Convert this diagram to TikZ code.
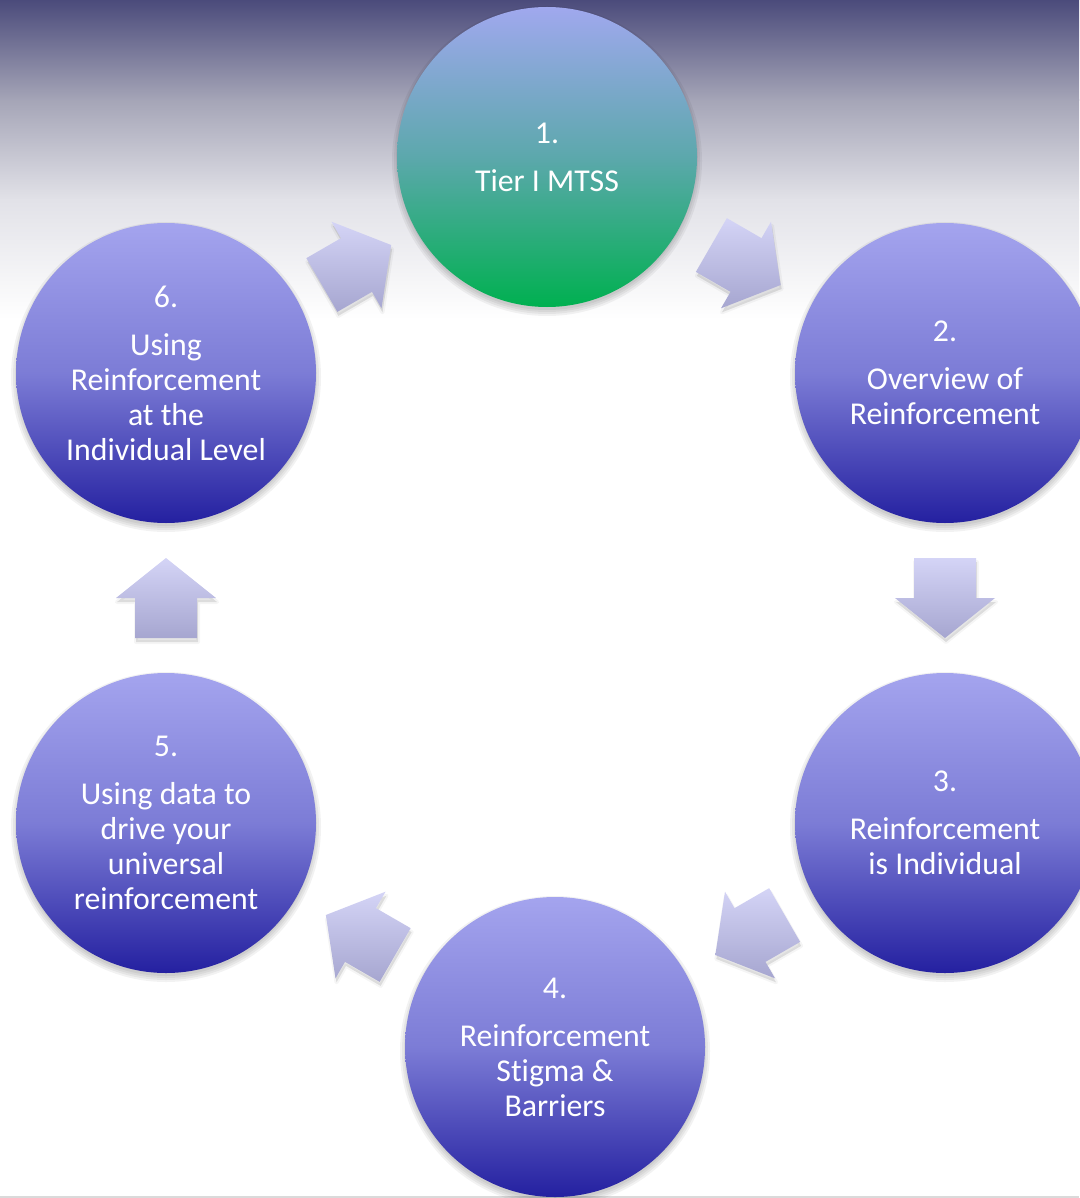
\documentclass[tikz,border=0pt]{standalone}
\usepackage{fontspec}
\setmainfont{Carlito}[Ligatures=NoCommon]
\usetikzlibrary{calc}

\definecolor{bgtop}{RGB}{75,75,123}
\definecolor{bgmid}{RGB}{165,165,183}
\definecolor{bglow}{RGB}{226,226,232}
\definecolor{rulegray}{RGB}{218,218,218}
\definecolor{discTop}{RGB}{164,164,238}
\definecolor{discMid}{RGB}{124,124,214}
\definecolor{discBot}{RGB}{36,32,160}
\definecolor{greenTop}{RGB}{160,168,238}
\definecolor{greenMid}{RGB}{92,168,172}
\definecolor{greenBot}{RGB}{0,176,80}
\definecolor{arrowTop}{RGB}{212,212,246}
\definecolor{arrowBot}{RGB}{166,166,208}

\tikzset{
  disc/.style={circle, minimum size=300pt, inner sep=0pt, shade,
    top color=discTop, bottom color=discBot, middle color=discMid},
  greendisc/.style={circle, minimum size=300pt, inner sep=0pt, shade,
    top color=greenTop, bottom color=greenBot, middle color=greenMid},
  lbl/.style={text=white, align=center, inner sep=0pt,
    font=\fontsize{31.8}{35}\selectfont},
  arrowfill/.style={shade, top color=arrowTop, bottom color=arrowBot},
  arrowshadow/.style={fill=black, fill opacity=0.10, draw=black,
    draw opacity=0.04, line width=4pt, line join=round},
}

% block arrow: #1 centre, #2 direction angle, #3 offset, #4 path style
\newcommand\arrowshape[4]{%
  \path[#4]
    ([shift={(#1)},shift={(#3)},rotate=#2]-40,31)
 -- ([shift={(#1)},shift={(#3)},rotate=#2]0,31)
 -- ([shift={(#1)},shift={(#3)},rotate=#2]0,50)
 -- ([shift={(#1)},shift={(#3)},rotate=#2]40,0)
 -- ([shift={(#1)},shift={(#3)},rotate=#2]0,-50)
 -- ([shift={(#1)},shift={(#3)},rotate=#2]0,-31)
 -- ([shift={(#1)},shift={(#3)},rotate=#2]-40,-31)
 -- cycle;}

\begin{document}
\begin{tikzpicture}[x=1pt,y=-1pt]
\useasboundingbox (0,0) rectangle (1079,1198);

% background: dark band at the top fading into white
\fill[white] (0,0) rectangle (1079,1198);
\shade[top color=bgtop, bottom color=bgmid] (0,0) rectangle (1079,100.5);
\shade[top color=bgmid, bottom color=bglow] (0,100) rectangle (1079,200.5);
\shade[top color=bglow, bottom color=white] (0,200) rectangle (1079,320);
\fill[rulegray] (0,1195.5) rectangle (1079,1198);

% disc centres
\coordinate (p1) at (547,157);
\coordinate (p2) at (945,373);
\coordinate (p3) at (945,823);
\coordinate (p4) at (555,1047);
\coordinate (p5) at (166,823);
\coordinate (p6) at (166,373);

% soft shadows under the discs
\foreach \p in {p1,p2,p3,p4,p5,p6}{
  \foreach \r in {149,151,153,155}{
    \fill[black, opacity=0.05] ([yshift=-4pt]\p) circle[radius=\r pt];
  }
}

% discs
\node[greendisc] (c1) at (p1) {};
\node[disc] (c2) at (p2) {};
\node[disc] (c3) at (p3) {};
\node[disc] (c4) at (p4) {};
\node[disc] (c5) at (p5) {};
\node[disc] (c6) at (p6) {};

% disc texts
\node[lbl] (t1) at (c1) {1.\\[13pt]Tier I MTSS};
\node[lbl] (t2) at (c2) {2.\\[13pt]Overview of\\Reinforcement};
\node[lbl] (t3) at (c3) {3.\\[13pt]Reinforcement\\is Individual};
\node[lbl] (t4) at (c4) {4.\\[13pt]Reinforcement\\Stigma \&\\Barriers};
\node[lbl] (t5) at (c5) {5.\\[13pt]Using data to\\drive your\\universal\\reinforcement};
\node[lbl] (t6) at (c6) {6.\\[13pt]Using\\Reinforcement\\at the\\Individual Level};

% block arrows half-way between neighbouring discs
\coordinate (m12) at ($(c1)!0.5!(c2)$);
\coordinate (m23) at ($(c2)!0.5!(c3)$);
\coordinate (m34) at ($(c3)!0.5!(c4)$);
\coordinate (m45) at ($(c4)!0.5!(c5)$);
\coordinate (m56) at ($(c5)!0.5!(c6)$);
\coordinate (m61) at ($(c6)!0.5!(c1)$);

\foreach \m/\a in {m12/-30, m23/-90, m34/-150, m45/150, m56/90, m61/30}{
  \arrowshape{\m}{\a}{1,4}{arrowshadow}
  \arrowshape{\m}{\a}{0,0}{arrowfill}
}
\end{tikzpicture}
\end{document}
